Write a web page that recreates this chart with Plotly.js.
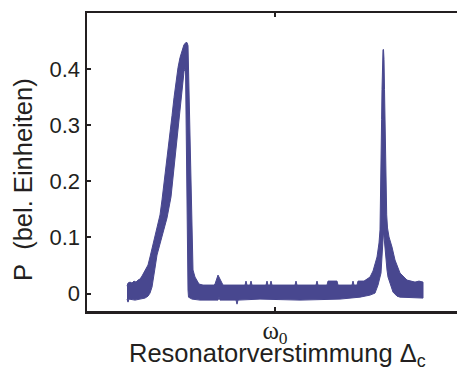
<!DOCTYPE html>
<html>
<head>
<meta charset="utf-8">
<script src="https://cdn.plot.ly/plotly-3.0.1.min.js"></script>
<style>
html, body { margin: 0; padding: 0; overflow: hidden; background: #fff; }
#chart { width: 464px; height: 371px; }
</style>
</head>
<body>
<div id="chart"></div>
<script>
// Detuning (arbitrary units, 0 = omega_0) and power envelope of the noisy trace
const upperX = [-148,-147,-145,-143,-141,-139,-137,-135,-133,-131,-129,-127,-125,-122,-120,-118,-115,-113,-111,-109,-107,-105,-103,-101,-99,-97,-95,-93,-91,-89,-88,-87,-86.5,-86,-85,-84.5,-84,-83.3,-82.7,-82,-80,-78,-76,-72,-61,-60,-59,-57,-55,-53,-52,-30,-29,-28,-25,-24,-23,-9,-8,-7,-5,-4,-3,20,21,22,41,42,43,52,53,62,63,77,78,79,82,83,89,92,95,98,100,102,103,104,105,105.5,106,106.3,106.6,107,107.5,108,108.5,109,109.5,110,110.5,111,111.7,112.5,114,117,120,125,129,132,140,144,148];
const upperP = [0.0134,0.0188,0.0205,0.0188,0.0223,0.0205,0.0241,0.0259,0.0313,0.0384,0.0438,0.0509,0.0652,0.0866,0.0991,0.1134,0.1402,0.1670,0.1955,0.2259,0.2562,0.2866,0.3170,0.3491,0.3777,0.4027,0.4205,0.4348,0.4438,0.4473,0.4473,0.4420,0.4027,0.3420,0.2741,0.2116,0.1723,0.1009,0.0688,0.0420,0.0295,0.0223,0.0170,0.0152,0.0152,0.0170,0.0241,0.0330,0.0259,0.0170,0.0152,0.0152,0.0223,0.0152,0.0152,0.0223,0.0152,0.0152,0.0223,0.0152,0.0152,0.0223,0.0152,0.0152,0.0223,0.0152,0.0152,0.0223,0.0152,0.0152,0.0223,0.0223,0.0152,0.0152,0.0223,0.0152,0.0152,0.0223,0.0223,0.0259,0.0295,0.0402,0.0509,0.0652,0.0777,0.0902,0.1134,0.1580,0.2027,0.2563,0.3098,0.3634,0.4170,0.4348,0.4348,0.4170,0.3634,0.2920,0.2295,0.1723,0.1402,0.1170,0.1009,0.0830,0.0598,0.0366,0.0295,0.0241,0.0205,0.0223,0.0205];
const lowerX = [-148,-147,-146,-140,-135,-130,-127,-125,-123,-122,-120,-118,-115,-112,-108,-104,-100,-97,-94,-91,-89.5,-89,-88,-87.5,-87,-86.5,-83,-75,-57,-56,-55,-39,-38,-37,-15,25,65,85,95,100,103,106,107,107.7,108.3,108.7,109.2,110,111,112,113,115,118,122,125,148];
const lowerP = [-0.0098,-0.0152,-0.0098,-0.0116,-0.0098,-0.0080,-0.0045,0.0009,0.0116,0.0241,0.0455,0.0688,0.0866,0.1063,0.1348,0.1723,0.2330,0.2884,0.3420,0.3955,0.4027,0.3152,0.1670,0.0955,0.0063,-0.0063,-0.0098,-0.0116,-0.0116,-0.0063,-0.0116,-0.0116,-0.0188,-0.0116,-0.0098,-0.0116,-0.0098,-0.0063,-0.0027,0.0009,0.0152,0.0366,0.0563,0.0866,0.1045,0.1080,0.1009,0.0866,0.0670,0.0420,0.0295,0.0188,0.0027,-0.0045,-0.0063,-0.0080];

const yTickVals = [0, 0.1, 0.2, 0.3, 0.4];
const yTickText = ['0', '0.1', '0.2', '0.3', '0.4'];
const xTickVals = [0];
const xTickText = ['ω<sub>0</sub>'];
const xTitle = 'Resonatorverstimmung Δ<sub>c</sub>';
const yTitle = 'P\u00a0 (bel. Einheiten)';

const polyX = upperX.concat(lowerX.slice().reverse());
const polyY = upperP.concat(lowerP.slice().reverse());

const trace = {
  x: polyX, y: polyY,
  type: 'scatter', mode: 'lines',
  fill: 'toself', fillcolor: '#48478f',
  line: { color: '#48478f', width: 1 },
  hoverinfo: 'skip'
};

const ink = '#231f20';
const layout = {
  width: 464, height: 371,
  margin: { l: 87, r: 1, t: 13, b: 60 },
  paper_bgcolor: '#fff', plot_bgcolor: '#fff',
  showlegend: false,
  font: { family: 'Liberation Sans, Arial, sans-serif', color: ink },
  xaxis: {
    range: [-188, 188],
    tickvals: xTickVals, ticktext: xTickText,
    tickfont: { family: 'Liberation Serif, Times New Roman, serif', size: 25, color: ink },
    ticklabelstandoff: -5,
    ticks: 'inside', ticklen: 4, tickwidth: 2, tickcolor: ink,
    showline: true, linecolor: ink, linewidth: 2.5, mirror: 'ticks',
    showgrid: false, zeroline: false
  },
  yaxis: {
    range: [-0.031, 0.5],
    tickvals: yTickVals, ticktext: yTickText,
    tickfont: { size: 22, color: ink },
    ticks: 'inside', ticklen: 4, tickwidth: 2, tickcolor: ink,
    showline: true, linecolor: ink, linewidth: 2.5,
    showgrid: false, zeroline: false
  },
  annotations: [{
    text: yTitle, textangle: -90,
    xref: 'paper', yref: 'paper',
    x: (23 - 87) / 376, y: (311 - 180) / 298,
    xanchor: 'center', yanchor: 'middle',
    showarrow: false,
    font: { size: 25.5, color: ink }
  }, {
    text: xTitle,
    xref: 'paper', yref: 'paper',
    x: (277 - 87) / 376, y: (311 - 373) / 298,
    xanchor: 'center', yanchor: 'bottom',
    showarrow: false,
    font: { size: 25.5, color: ink }
  }]
};

Plotly.newPlot('chart', [trace], layout, { displayModeBar: false, staticPlot: true });
</script>
</body>
</html>
